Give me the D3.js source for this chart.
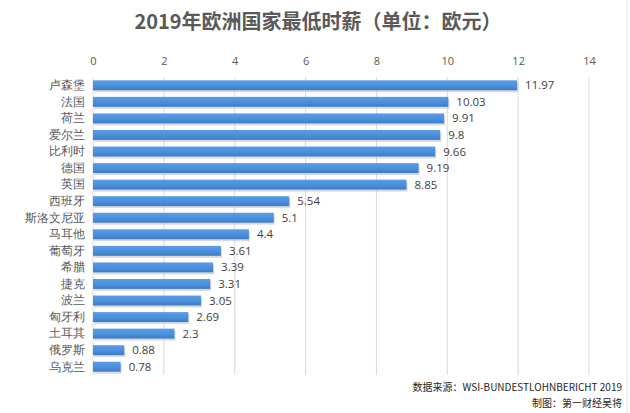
<!DOCTYPE html>
<html>
<head>
<meta charset="utf-8">
<script src="https://cdn.jsdelivr.net/npm/d3@7"></script>
<style>
  body { margin: 0; background: #fff; }
  svg { display: block; font-family: "Noto Sans CJK SC", "Open Sans", sans-serif; }
</style>
</head>
<body>
<svg id="drawing_region"></svg>
<script>
const countries = ['卢森堡', '法国', '荷兰', '爱尔兰', '比利时', '德国', '英国', '西班牙', '斯洛文尼亚',
    '马耳他', '葡萄牙', '希腊', '捷克', '波兰', '匈牙利', '土耳其', '俄罗斯', '乌克兰'];
const wages = [11.97, 10.03, 9.91, 9.8, 9.66, 9.19, 8.85, 5.54, 5.1,
    4.4, 3.61, 3.39, 3.31, 3.05, 2.69, 2.3, 0.88, 0.78];
const ticks = [0, 2, 4, 6, 8, 10, 12, 14];

const config = {
    width: 630,
    height: 413,
    margin: { top: 77, right: 41, bottom: 38, left: 93 }
};

const svg = d3.select('#drawing_region')
    .attr('width', config.width)
    .attr('height', config.height);

const inner_w = config.width - config.margin.left - config.margin.right;
const inner_h = config.height - config.margin.top - config.margin.bottom;

const defs = svg.append('defs');
const grad = defs.append('linearGradient')
    .attr('id', 'bar_grad')
    .attr('x1', 0).attr('y1', 0).attr('x2', 0).attr('y2', 1);
grad.append('stop').attr('offset', '0%').attr('stop-color', '#5a9ce6');
grad.append('stop').attr('offset', '60%').attr('stop-color', '#4a8ddb');
grad.append('stop').attr('offset', '100%').attr('stop-color', '#3c7cc8');

// title
svg.append('text')
    .attr('x', 318)
    .attr('y', 29)
    .attr('text-anchor', 'middle')
    .attr('font-size', 20)
    .attr('font-weight', 'bold')
    .attr('fill', '#595959')
    .text('2019年欧洲国家最低时薪（单位：欧元）');

const chart = svg.append('g')
    .attr('transform', `translate(${config.margin.left}, ${config.margin.top})`);

const xscale = d3.scaleLinear()
    .domain([0, 14])
    .range([0, inner_w]);

const yscale = d3.scaleBand()
    .domain(countries)
    .range([0, inner_h])
    .paddingInner(0.4)
    .paddingOuter(0.2);

// gridlines
chart.append('g')
    .selectAll('line')
    .data(ticks)
    .join('line')
    .attr('x1', d => xscale(d))
    .attr('x2', d => xscale(d))
    .attr('y1', 0)
    .attr('y2', inner_h)
    .attr('stroke', '#d9d9d9')
    .attr('stroke-width', 1);

// top axis
const xaxis = d3.axisTop(xscale)
    .tickValues(ticks)
    .tickSize(0)
    .tickPadding(12);

chart.append('g')
    .call(xaxis)
    .call(g => g.select('.domain').remove())
    .selectAll('text')
    .attr('font-size', 11)
    .attr('fill', '#595959')
    .attr('font-family', '"Open Sans", sans-serif');

// left axis labels
const yaxis = d3.axisLeft(yscale)
    .tickSize(0)
    .tickPadding(8);

chart.append('g')
    .call(yaxis)
    .call(g => g.select('.domain').remove())
    .selectAll('text')
    .attr('font-size', 12)
    .attr('fill', '#595959');

// bar shadows
chart.append('g')
    .selectAll('rect')
    .data(countries)
    .join('rect')
    .attr('x', xscale(0) + 1)
    .attr('y', d => yscale(d) + 2)
    .attr('width', (d, i) => xscale(wages[i]) - xscale(0))
    .attr('height', yscale.bandwidth())
    .attr('fill', '#bfbfbf')
    .attr('opacity', 0.6);

// bars
chart.append('g')
    .selectAll('rect')
    .data(countries)
    .join('rect')
    .attr('x', xscale(0))
    .attr('y', d => yscale(d))
    .attr('width', (d, i) => xscale(wages[i]) - xscale(0))
    .attr('height', yscale.bandwidth())
    .attr('fill', 'url(#bar_grad)');

// value labels
chart.append('g')
    .selectAll('text')
    .data(countries)
    .join('text')
    .attr('x', (d, i) => xscale(wages[i]) + 8)
    .attr('y', d => yscale(d) + yscale.bandwidth() / 2)
    .attr('dy', '0.35em')
    .attr('font-size', 11.5)
    .attr('fill', '#404040')
    .attr('font-family', '"Open Sans", sans-serif')
    .text((d, i) => wages[i]);

// faint right edge line
svg.append('line')
    .attr('x1', 627).attr('x2', 627)
    .attr('y1', 0).attr('y2', config.height)
    .attr('stroke', '#e6e6e6');

// source notes
svg.append('text')
    .attr('x', 622)
    .attr('y', 391)
    .attr('text-anchor', 'end')
    .attr('font-size', 10)
    .attr('fill', '#262626')
    .attr('font-family', '"Noto Sans CJK SC", "DejaVu Sans Mono", monospace')
    .text('数据来源：WSI-BUNDESTLOHNBERICHT 2019');

svg.append('text')
    .attr('x', 622)
    .attr('y', 407)
    .attr('text-anchor', 'end')
    .attr('font-size', 10)
    .attr('fill', '#262626')
    .text('制图：第一财经吴将');
</script>
</body>
</html>
